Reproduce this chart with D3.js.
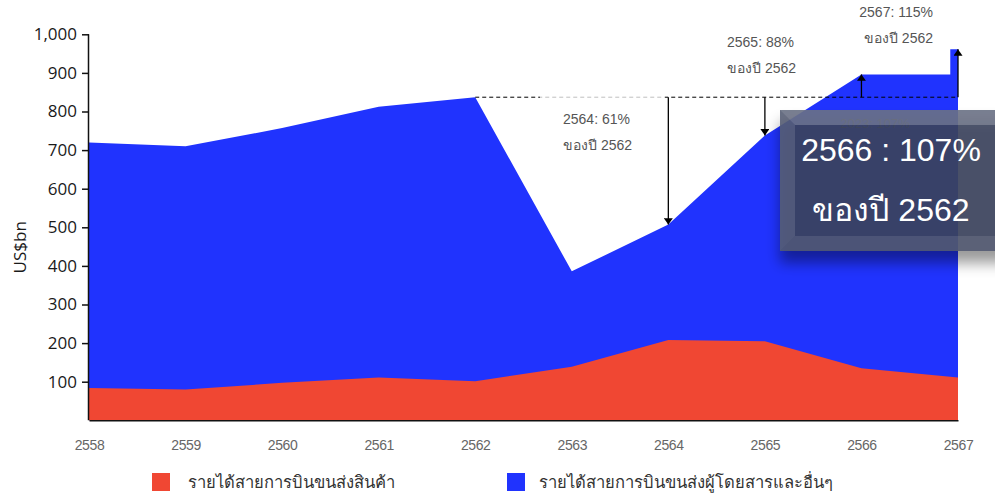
<!DOCTYPE html>
<html><head><meta charset="utf-8">
<script src="https://cdn.jsdelivr.net/npm/d3@7"></script>
<style>
body{margin:0;background:#fff;}
svg{display:block;}
</style></head>
<body>
<svg id="c" width="995" height="496"></svg>
<script>
// ---- data ----
const years = [2558, 2559, 2560, 2561, 2562, 2563, 2564, 2565, 2566, 2567];
const cargo = [84, 80, 97, 111, 101, 139, 208, 205, 135, 111];
const total = [720, 710, 757, 812, 837, 386, 507, 738, 896, 961];
const stepStart = 2566.92;           // where the 2566 plateau steps up to 2567
const yTicks = [0, 100, 200, 300, 400, 500, 600, 700, 800, 900, 1000];
const baseYear = 2562;
const notes = [
  {year: 2564, pct: "61%"},
  {year: 2565, pct: "88%"},
  {year: 2566, pct: "107%"},
  {year: 2567, pct: "115%"}
];
const legendLabels = ["รายได้สายการบินขนส่งสินค้า", "รายได้สายการบินขนส่งผู้โดยสารและอื่นๆ"];
const colors = ["#f04733", "#2033fe"];

// ---- layout ----
const svg = d3.select("#c");
const x = d3.scaleLinear().domain([years[0], years[years.length-1]]).range([89, 958]);
const y = d3.scaleLinear().domain([0, 1000]).range([420.3, 34.3]);
const thai = "'Liberation Sans', Arial, 'DejaVu Sans', sans-serif";

const defs = svg.append("defs");
defs.append("marker").attr("id","ah").attr("viewBox","0 0 10 14").attr("refX",10).attr("refY",7)
  .attr("markerWidth",12).attr("markerHeight",9).attr("markerUnits","userSpaceOnUse").attr("orient","auto")
  .append("path").attr("d","M0,0 L10,7 L0,14 Z").attr("fill","#000");
const f = defs.append("filter").attr("id","sh").attr("x","-20%").attr("y","-20%").attr("width","140%").attr("height","160%");
f.append("feDropShadow").attr("dx",0).attr("dy",12).attr("stdDeviation",7).attr("flood-color","#000").attr("flood-opacity",0.45);

// total (blue) area with the plateau step before 2567
const totalPts = years.map((yr,i)=>({yr, v: total[i]}));
const last = totalPts.pop();
totalPts.push({yr: stepStart, v: total[years.indexOf(2566)]});
totalPts.push({yr: stepStart, v: last.v});
totalPts.push(last);
const area = d3.area().x(d=>x(d.yr)).y0(y(0)).y1(d=>y(d.v));
svg.append("path").datum(totalPts).attr("d", area).attr("fill", colors[1]);
svg.append("path").datum(years.map((yr,i)=>({yr, v: cargo[i]}))).attr("d", area).attr("fill", colors[0]);

// axes
const ya = svg.append("g").attr("transform",`translate(${x(years[0])},0)`)
  .call(d3.axisLeft(y).tickValues(yTicks.slice(1)).tickSize(7).tickFormat(d3.format(",")));
ya.select(".domain").attr("d", `M-0.5,${y(0)}V${y(1000)}`).attr("stroke","#111").attr("stroke-width",1.5);
ya.selectAll(".tick line").attr("stroke","#111").attr("stroke-width",1.5);
ya.selectAll(".tick text").attr("font-family","'Open Sans', sans-serif").attr("font-size",17).attr("fill","#1a1a1a").attr("x",-12);

const xa = svg.append("g").attr("transform",`translate(0,${y(0)})`)
  .call(d3.axisBottom(x).tickValues(years).tickSize(0).tickFormat(d3.format("d")));
xa.select(".domain").attr("stroke","#111").attr("stroke-width",1.5);
xa.selectAll(".tick text").attr("font-family","'Liberation Sans', Arial, sans-serif").attr("font-size",14)
  .attr("fill","#666").attr("dy","0").attr("y",30).style("letter-spacing","-0.4px");

svg.append("text").attr("transform",`translate(26,${(y(0)+y(1000))/2+20}) rotate(-90)`)
  .attr("text-anchor","middle").attr("font-family","'Open Sans', sans-serif").attr("font-size",17).attr("fill","#1a1a1a").text("US$bn");

// reference dashed line at 2562 level
const baseV = total[years.indexOf(baseYear)];
svg.append("line").attr("x1",x(baseYear)).attr("x2",x(years[years.length-1])).attr("y1",y(baseV)).attr("y2",y(baseV))
  .attr("stroke","#000").attr("stroke-width",1).attr("stroke-dasharray","4,3");

// arrows
notes.forEach(n=>{
  const v = total[years.indexOf(n.year)];
  svg.append("line").attr("x1",x(n.year)).attr("x2",x(n.year)).attr("y1",y(baseV)).attr("y2",y(v))
    .attr("stroke","#000").attr("stroke-width",1.3).attr("marker-end","url(#ah)");
});

// annotation text
const ann = (tx, ty, anchor, l1, l2) => {
  const g = svg.append("g").attr("font-family",thai).attr("font-size",14).attr("fill","#555").attr("text-anchor",anchor);
  g.append("text").attr("x",tx).attr("y",ty).text(l1);
  if (l2) g.append("text").attr("x",tx).attr("y",ty+26).text(l2);
  return g;
};
// white veil behind 2564 note (lightens the dashed line there)
svg.append("rect").attr("x",540).attr("y",92).attr("width",125).attr("height",70).attr("fill","#fff").attr("opacity",0.75);
ann(563, 124, "start", `2564: ${notes[0].pct}`, `ของปี ${baseYear}`);
ann(727, 47, "start", `2565: ${notes[1].pct}`, `ของปี ${baseYear}`);
ann(933, 17, "end", `2567: ${notes[3].pct}`, `ของปี ${baseYear}`);
// faint original note hidden under the callout box
ann(875, 128, "middle", "2023: 107%", null).attr("font-size",13);

// dark callout box
const bx = 780, by = 110, bw = 230, bh = 141, bv = 15;
const box = svg.append("g");
box.append("rect").attr("x",bx).attr("y",by).attr("width",bw).attr("height",bh)
  .attr("fill","rgb(60,70,94)").attr("fill-opacity",0.88).attr("filter","url(#sh)");
const bev = [
  {p:[[bx,by],[bx+bw,by],[bx+bw-bv,by+bv],[bx+bv,by+bv]], o:0.22},
  {p:[[bx,by],[bx+bv,by+bv],[bx+bv,by+bh-bv],[bx,by+bh]], o:0.12},
  {p:[[bx,by+bh],[bx+bv,by+bh-bv],[bx+bw-bv,by+bh-bv],[bx+bw,by+bh]], o:0.10},
];
bev.forEach(b=>box.append("polygon").attr("points",b.p.map(q=>q.join(",")).join(" ")).attr("fill","#fff").attr("opacity",b.o));
box.append("text").attr("x",891).attr("y",161).attr("text-anchor","middle").attr("font-family",thai)
  .attr("font-size",32).attr("fill","#fff").text(`${notes[2].year} : ${notes[2].pct}`);
box.append("text").attr("x",891).attr("y",221).attr("text-anchor","middle").attr("font-family",thai)
  .attr("font-size",32).attr("fill","#fff").text(`ของปี ${baseYear}`);

// legend
const lg = svg.append("g").attr("font-family",thai).attr("font-size",16.6).attr("fill","#333");
[[152,188],[507,539]].forEach(([sx,tx],i)=>{
  lg.append("rect").attr("x",sx).attr("y",473).attr("width",18).attr("height",18).attr("fill",colors[i]);
  lg.append("text").attr("x",tx).attr("y",488).text(legendLabels[i]);
});
</script>
</body></html>
